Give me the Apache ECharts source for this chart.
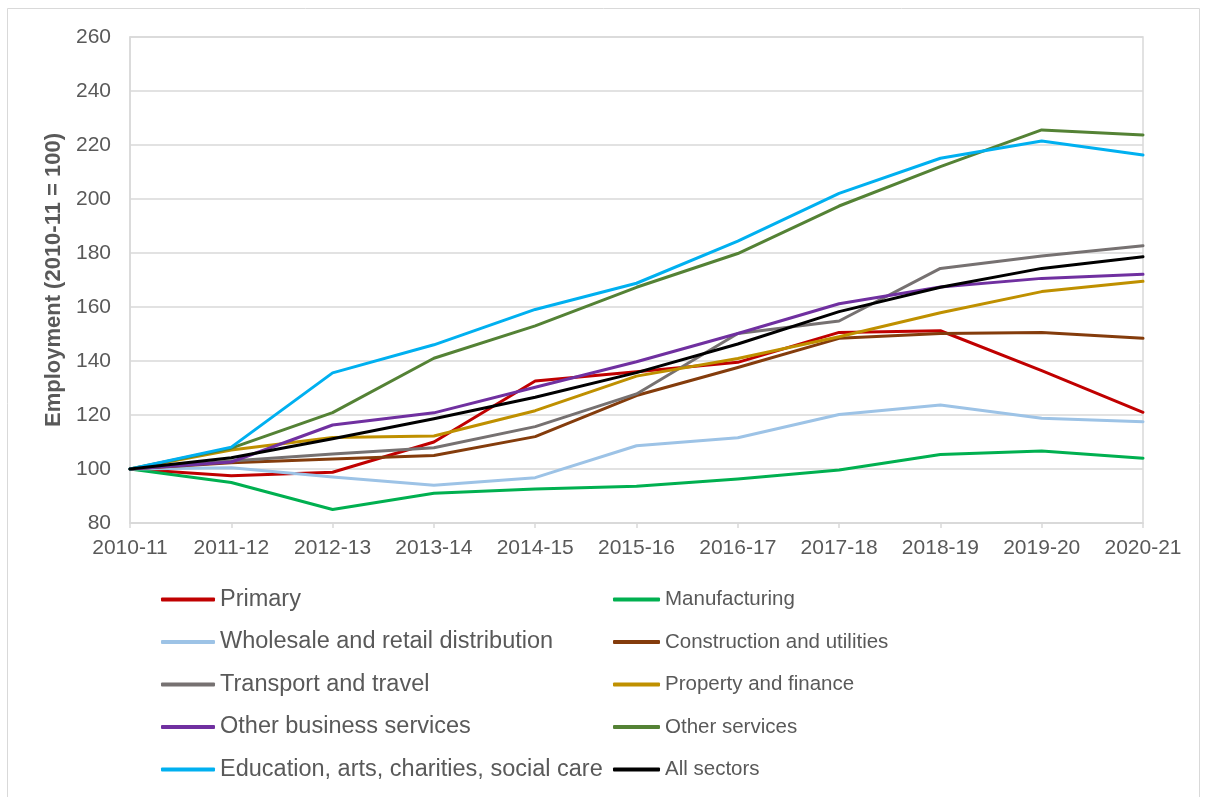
<!DOCTYPE html>
<html>
<head>
<meta charset="utf-8">
<style>
  html, body { margin: 0; padding: 0; background: #fff; }
  #chart { width: 1205px; height: 797px; }
</style>
<script src="https://cdn.jsdelivr.net/npm/echarts@6/dist/echarts.min.js"></script>
</head>
<body>
<div id="chart"></div>
<script>
// Employment index by sector, 2010-11 = 100
const years = ['2010-11', '2011-12', '2012-13', '2013-14', '2014-15', '2015-16',
               '2016-17', '2017-18', '2018-19', '2019-20', '2020-21'];

const primary       = [100, 97.5, 98.8, 110.0, 132.6, 136.0, 139.5, 150.6, 151.2, 136.4, 121.0];
const manufacturing = [100, 95.0, 85.0, 91.0, 92.6, 93.6, 96.3, 99.6, 105.4, 106.7, 104.0];
const wholesale     = [100, 100.5, 97.0, 94.0, 96.8, 108.6, 111.6, 120.2, 123.7, 118.8, 117.5];
const construction  = [100, 102.3, 103.7, 105.0, 112.0, 127.2, 137.6, 148.4, 150.2, 150.6, 148.4];
const transport     = [100, 103.0, 105.6, 107.9, 115.7, 127.8, 150.2, 154.8, 174.3, 178.9, 182.7];
const property      = [100, 107.0, 111.7, 112.2, 121.6, 134.4, 140.9, 149.0, 157.9, 165.7, 169.5];
const otherBusiness = [100, 102.6, 116.3, 120.8, 130.3, 139.7, 150.2, 161.2, 167.4, 170.6, 172.1];
const otherServices = [100, 107.7, 120.9, 141.0, 153.0, 167.3, 179.8, 197.4, 212.0, 225.6, 223.7];
const education     = [100, 108.1, 135.6, 146.0, 159.1, 168.8, 184.4, 202.1, 215.1, 221.5, 216.3];
const allSectors    = [100, 104.2, 111.2, 118.6, 126.6, 135.7, 146.3, 158.3, 167.3, 174.3, 178.6];

const yTicks = { min: 80, max: 260, interval: 20 };

const seriesDefs = [
  ['Primary', primary, '#C00000'],
  ['Manufacturing', manufacturing, '#00B050'],
  ['Wholesale and retail distribution', wholesale, '#9DC3E6'],
  ['Construction and utilities', construction, '#843C0C'],
  ['Transport and travel', transport, '#767171'],
  ['Property and finance', property, '#BF9000'],
  ['Other business services', otherBusiness, '#7030A0'],
  ['Other services', otherServices, '#548235'],
  ['Education, arts, charities, social care', education, '#00B0F0'],
  ['All sectors', allSectors, '#000000']
];

const textGrey = '#595959';
const gridGrey = '#D9D9D9';
const fontFam = '"Liberation Sans", Arial, sans-serif';

const chart = echarts.init(document.getElementById('chart'), null, { renderer: 'canvas' });

const legendBase = {
  orient: 'vertical',
  icon: 'roundRect',
  itemHeight: 4,
  itemGap: 16.5,
  textStyle: { color: textGrey, fontSize: 23.5, fontFamily: fontFam, lineHeight: 26 },
  selectedMode: false
};

chart.setOption({
  animation: false,
  backgroundColor: '#fff',
  graphic: [{
    type: 'rect',
    shape: { x: 7.5, y: 8.5, width: 1192, height: 800 },
    style: { fill: 'none', stroke: gridGrey, lineWidth: 1 },
    silent: true
  }],
  grid: {
    left: 130, right: 62, top: 37, bottom: 274,
    show: true, borderColor: gridGrey, borderWidth: 1.5, backgroundColor: 'transparent'
  },
  legend: [
    Object.assign({}, legendBase, {
      left: 156, top: 581.5, itemWidth: 54,
      data: seriesDefs.filter((d, i) => i % 2 === 0).map(d => d[0])
    }),
    Object.assign({}, legendBase, {
      left: 608, top: 581.5, itemWidth: 47,
      textStyle: Object.assign({}, legendBase.textStyle, { fontSize: 20.5 }),
      data: seriesDefs.filter((d, i) => i % 2 === 1).map(d => d[0])
    })
  ],
  xAxis: {
    type: 'category',
    data: years,
    boundaryGap: false,
    axisLine: { lineStyle: { color: gridGrey, width: 1.5 } },
    axisTick: { show: true, length: 5, inside: false, lineStyle: { color: gridGrey, width: 1.5 } },
    axisLabel: { color: textGrey, fontSize: 21, fontFamily: fontFam, margin: 15 },
    splitLine: { show: false }
  },
  yAxis: {
    type: 'value',
    min: yTicks.min, max: yTicks.max, interval: yTicks.interval,
    name: 'Employment (2010-11 = 100)',
    nameLocation: 'middle',
    nameGap: 63,
    nameTextStyle: { color: textGrey, fontSize: 22, fontWeight: 'bold', fontFamily: fontFam },
    axisLine: { show: true, lineStyle: { color: gridGrey, width: 1.5 } },
    axisTick: { show: false },
    axisLabel: { color: textGrey, fontSize: 21, fontFamily: fontFam, margin: 19 },
    splitLine: { show: true, lineStyle: { color: gridGrey, width: 1.5 } }
  },
  series: seriesDefs.map(([name, values, color]) => ({
    name: name,
    type: 'line',
    data: values,
    symbol: 'none',
    color: color,
    lineStyle: { color: color, width: 3, cap: 'round', join: 'round' },
    emphasis: { disabled: true }
  }))
});
</script>
</body>
</html>
